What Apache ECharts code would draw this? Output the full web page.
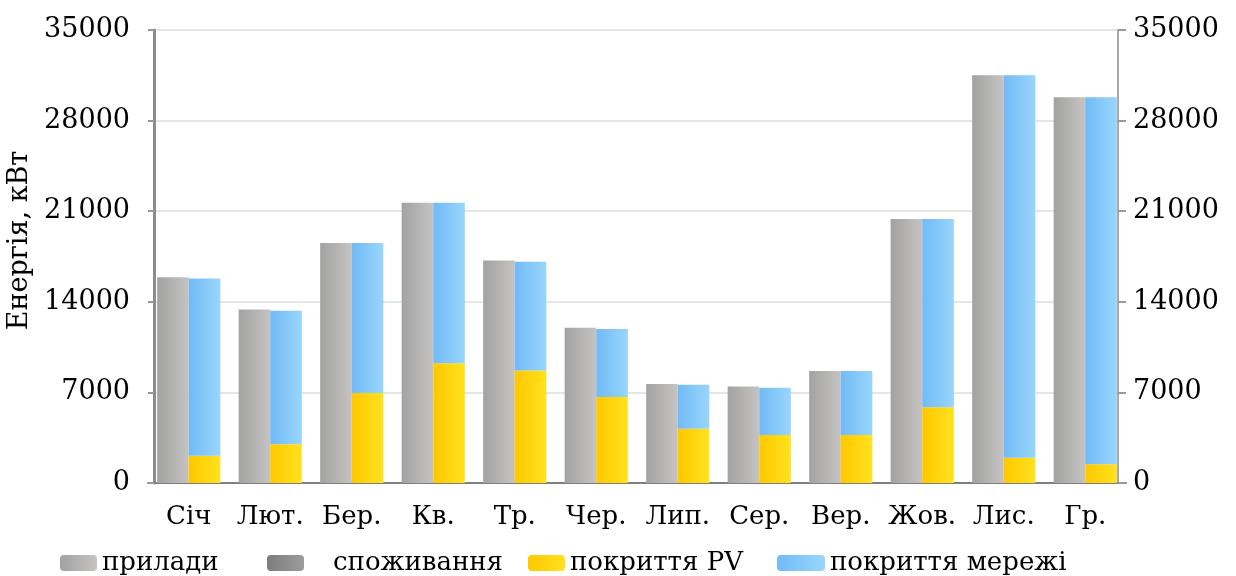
<!DOCTYPE html>
<html>
<head>
<meta charset="utf-8">
<script src="https://cdn.jsdelivr.net/npm/echarts@6/dist/echarts.min.js"></script>
<style>
  html, body { margin: 0; padding: 0; background: #fff; }
  #energy { width: 1236px; height: 576px; }
</style>
</head>
<body>
<div id="energy"></div>
<script>
var months = ['Січ', 'Лют.', 'Бер.', 'Кв.', 'Тр.', 'Чер.', 'Лип.', 'Сер.', 'Вер.', 'Жов.', 'Лис.', 'Гр.'];
var prylady = [15900, 13400, 18550, 21650, 17200, 12000, 7650, 7450, 8650, 20400, 31500, 29800];
var pokryttyaPV = [2100, 3000, 6950, 9250, 8700, 6650, 4200, 3700, 3700, 5850, 1950, 1450];
var pokryttyaMerezhi = [13700, 10300, 11600, 12400, 8400, 5250, 3400, 3650, 4950, 14550, 29550, 28350];
var yTicks = [0, 7000, 14000, 21000, 28000, 35000];

var energyChart = echarts.init(document.getElementById('energy'));

var serif = 'DejaVu Serif';
function grad(c1, c2) {
    return new echarts.graphic.LinearGradient(0, 0, 1, 0, [
        { offset: 0, color: c1 },
        { offset: 1, color: c2 }
    ]);
}
function plain(v) {
    return String(v); // без розділювачів тисяч
}

var legendText = { fontFamily: serif, fontSize: 26, color: '#000' };

var option = {
    backgroundColor: '#FFFFFF',
    animation: false,
    grid: {
        left: 148,
        top: 30,
        width: 978,
        height: 453,
        containLabel: false,
        outerBoundsMode: 'none'
    },
    legend: [
        { left: 55, top: 545, itemWidth: 37, itemHeight: 16, data: ['прилади'], textStyle: legendText },
        { left: 262, top: 545, itemWidth: 37, itemHeight: 16, data: ['споживання'],
          textStyle: { fontFamily: serif, fontSize: 26, color: '#000', padding: [0, 0, 0, 24] } },
        { left: 523, top: 545, itemWidth: 37, itemHeight: 16, data: ['покриття PV'], textStyle: legendText },
        { left: 772, top: 545, itemWidth: 48, itemHeight: 16, data: ['покриття мережі'], textStyle: legendText }
    ],
    xAxis: {
        type: 'category',
        data: months,
        axisLine: { lineStyle: { color: '#7f7f7f', width: 2 } },
        axisTick: { alignWithLabel: true, length: 7, lineStyle: { color: '#777' } },
        axisLabel: { interval: 0, hideOverlap: false, fontFamily: serif, fontSize: 26, color: '#000', margin: 21 }
    },
    yAxis: [
        {
            type: 'value',
            min: yTicks[0],
            max: yTicks[yTicks.length - 1],
            interval: 7000,
            offset: -6,
            name: 'Енергія, кВт',
            nameLocation: 'middle',
            nameRotate: 90,
            nameGap: 110,
            nameTextStyle: { fontFamily: serif, fontSize: 27, color: '#000', padding: [0, 0, 0, 32] },
            axisLine: { show: true, lineStyle: { color: '#8c8c8c', width: 3 } },
            axisTick: { show: true, length: 6, lineStyle: { color: '#999', width: 2 } },
            axisLabel: { fontFamily: serif, fontSize: 27, color: '#000', margin: 24, formatter: plain },
            splitLine: { lineStyle: { color: '#e6e6e6', width: 2 } }
        },
        {
            type: 'value',
            position: 'right',
            min: yTicks[0],
            max: yTicks[yTicks.length - 1],
            interval: 7000,
            offset: -8,
            axisLine: { show: true, lineStyle: { color: '#8c8c8c', width: 1.5 } },
            axisTick: { show: true, length: 8, lineStyle: { color: '#999', width: 2 } },
            axisLabel: { fontFamily: serif, fontSize: 27, color: '#000', margin: 15, formatter: plain },
            splitLine: { show: false }
        }
    ],
    series: [
        {
            name: 'прилади',
            type: 'bar',
            stack: 'app',
            data: prylady,
            barGap: '0%',
            barCategoryGap: '22.5%',
            itemStyle: { color: grad('#a2a2a2', '#c6c4c2') }
        },
        {
            name: 'споживання',
            type: 'bar',
            stack: 'app',
            data: months.map(function () { return '-'; }),
            itemStyle: { color: grad('#7d7d7d', '#9c9c9c') }
        },
        {
            name: 'покриття PV',
            type: 'bar',
            stack: 'cover',
            data: pokryttyaPV,
            itemStyle: { color: grad('#ffc800', '#ffe21e') }
        },
        {
            name: 'покриття мережі',
            type: 'bar',
            stack: 'cover',
            data: pokryttyaMerezhi,
            itemStyle: { color: grad('#72baf6', '#98d6fc') }
        }
    ]
};

energyChart.setOption(option);
window.addEventListener('resize', function () {
    energyChart.resize();
});
</script>
</body>
</html>
